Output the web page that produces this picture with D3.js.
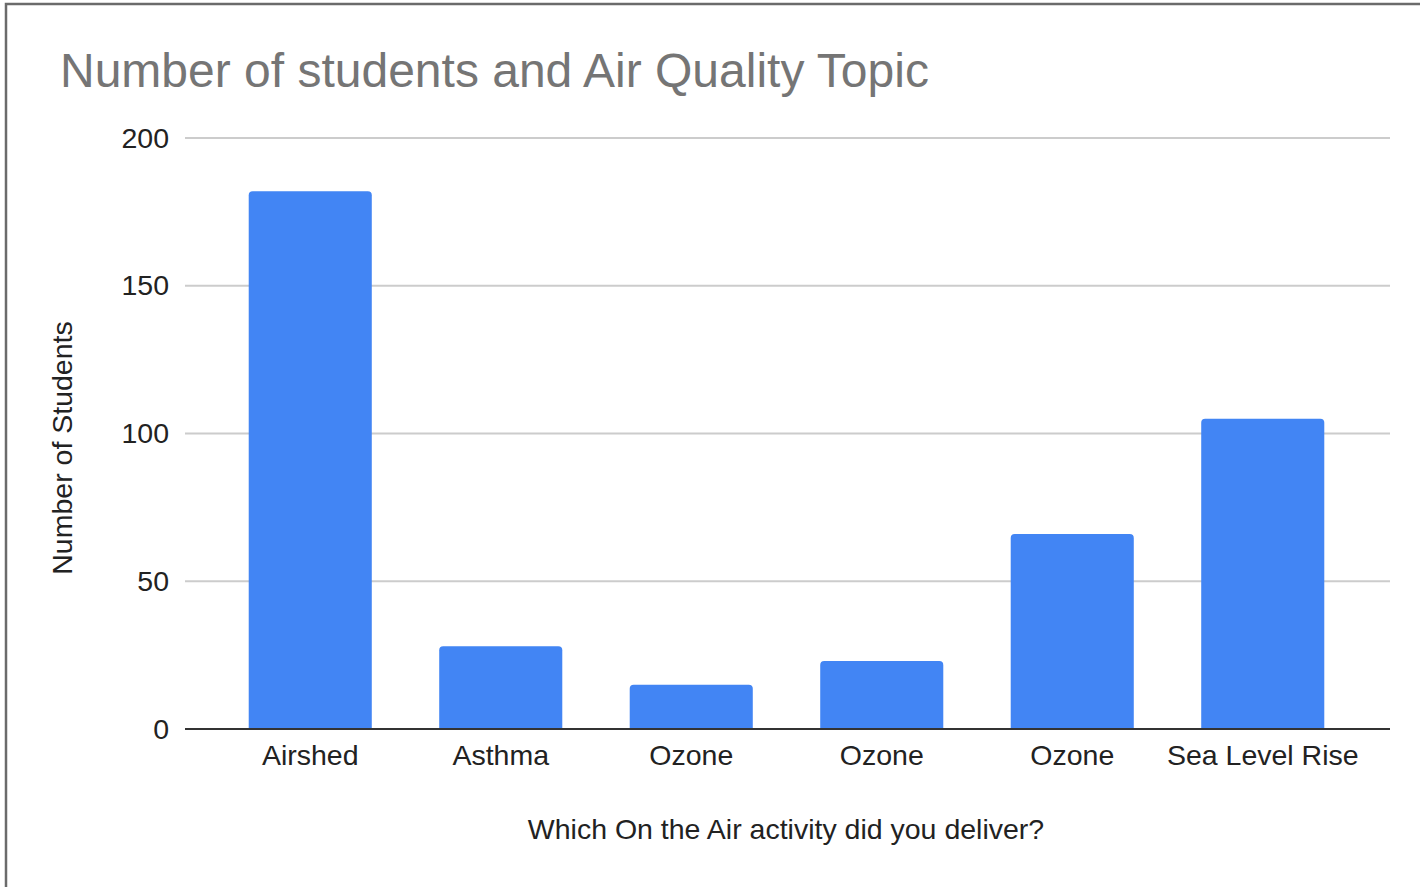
<!DOCTYPE html>
<html><head><meta charset="utf-8">
<script src="https://cdn.jsdelivr.net/npm/d3@7"></script>
<style>html,body{margin:0;padding:0;background:#fff;}svg{display:block;font-family:Arial,"Liberation Sans",sans-serif;}</style>
</head><body>
<script>
const categories = ["Airshed", "Asthma", "Ozone", "Ozone", "Ozone", "Sea Level Rise"];
const values = [182, 28, 15, 23, 66, 105];
const yTicks = [0, 50, 100, 150, 200];
const title = "Number of students and Air Quality Topic";
const xTitle = "Which On the Air activity did you deliver?";
const yTitle = "Number of Students";

const W = 1420, H = 887;
const svg = d3.select("body").append("svg").attr("width", W).attr("height", H);
svg.append("rect").attr("width", W).attr("height", H).attr("fill", "#fff");
// frame
svg.append("path").attr("d", `M6,${H+5} L6,4 L${W+5},4`).attr("fill", "none").attr("stroke", "#6b6b6b").attr("stroke-width", 2.5);

const x0 = 185, x1 = 1390, yTop = 138, yBot = 729;
const y = d3.scaleLinear().domain([0, 200]).range([yBot, yTop]);
const x = d3.scaleBand().domain(categories.map((c, i) => i)).range([215, 1358]).paddingInner(0.354).paddingOuter(0.177);

// gridlines
svg.append("g").selectAll("line").data(yTicks.filter(t => t > 0)).join("line")
  .attr("x1", x0).attr("x2", x1).attr("y1", d => y(d)).attr("y2", d => y(d))
  .attr("stroke", "#cccccc").attr("stroke-width", 2);

// y tick labels via axis
const yAxis = svg.append("g").attr("transform", `translate(${x0},0)`)
  .call(d3.axisLeft(y).tickValues(yTicks).tickSize(0).tickPadding(16));
yAxis.select(".domain").remove();
yAxis.selectAll("text").attr("font-size", 28.5).attr("fill", "#222").attr("font-family", "Arial, 'Liberation Sans', sans-serif");

// bars with rounded tops
const r = 4;
svg.append("g").selectAll("path").data(values).join("path")
  .attr("fill", "#4285f4")
  .attr("d", (v, i) => {
    const bx = x(i), bw = x.bandwidth(), top = y(v), bot = y(0);
    return `M${bx},${bot} L${bx},${top + r} Q${bx},${top} ${bx + r},${top} L${bx + bw - r},${top} Q${bx + bw},${top} ${bx + bw},${top + r} L${bx + bw},${bot} Z`;
  });

// baseline
svg.append("line").attr("x1", x0).attr("x2", x1).attr("y1", y(0)).attr("y2", y(0))
  .attr("stroke", "#333").attr("stroke-width", 2);

// x axis labels
const xAxis = svg.append("g").attr("transform", `translate(0,${yBot})`)
  .call(d3.axisBottom(x).tickSize(0).tickPadding(16).tickFormat(i => categories[i]));
xAxis.select(".domain").remove();
xAxis.selectAll("text").attr("font-size", 28.5).attr("fill", "#222").attr("font-family", "Arial, 'Liberation Sans', sans-serif");

// titles
svg.append("text").attr("x", 60).attr("y", 87).attr("font-size", 48).attr("fill", "#757575").text(title);
svg.append("text").attr("x", 786).attr("y", 839).attr("text-anchor", "middle").attr("font-size", 28.5).attr("fill", "#222").text(xTitle);
svg.append("text").attr("transform", "translate(72,448) rotate(-90)").attr("text-anchor", "middle").attr("font-size", 28.5).attr("fill", "#222").text(yTitle);
</script>
</body></html>
